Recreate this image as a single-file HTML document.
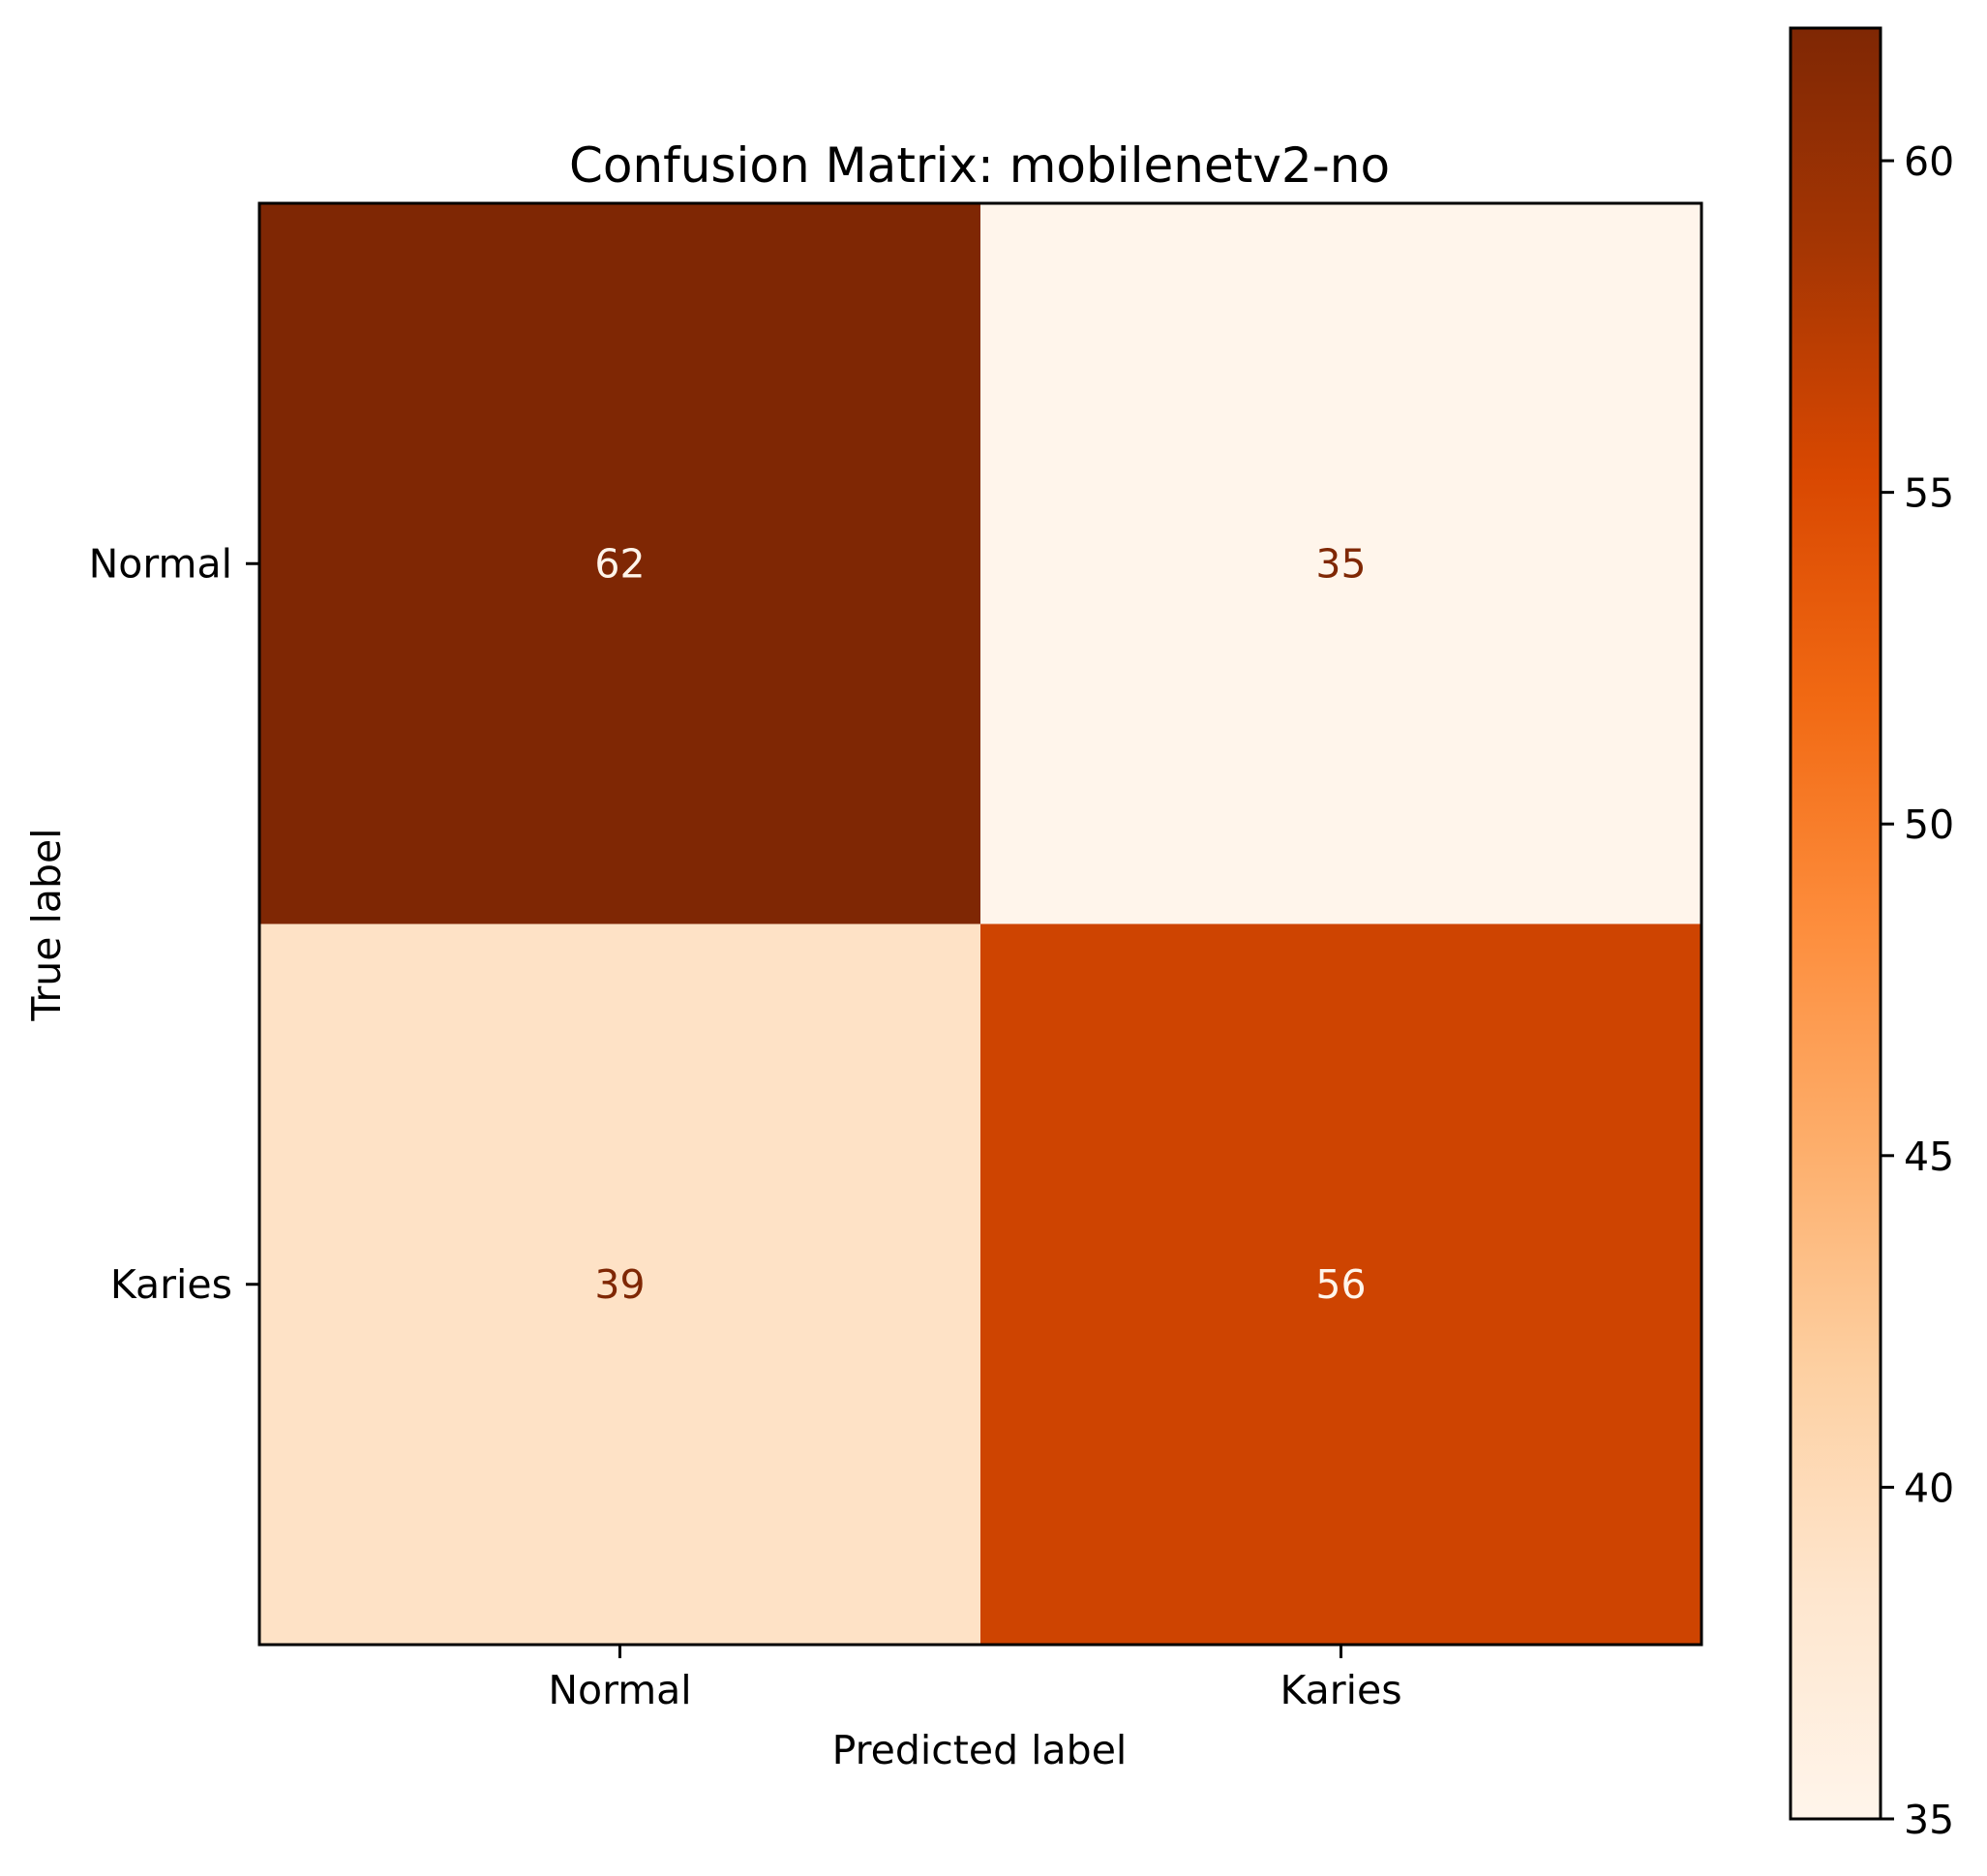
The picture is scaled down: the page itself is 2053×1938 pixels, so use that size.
<!DOCTYPE html>
<html><head><meta charset="utf-8"><style>
html,body{margin:0;padding:0;background:#fff;}
svg text{font-family:"DejaVu Sans","Liberation Sans",sans-serif;fill:#000;}
</style></head><body>
<svg id="chart" width="2053" height="1933" viewBox="0 0 2053 1933" xmlns="http://www.w3.org/2000/svg">
<defs>
<linearGradient id="cbgrad" x1="0" y1="1" x2="0" y2="0">
<stop offset="0" stop-color="#fff5eb"/><stop offset="0.125" stop-color="#fee6ce"/><stop offset="0.25" stop-color="#fdd0a2"/><stop offset="0.375" stop-color="#fdae6b"/><stop offset="0.5" stop-color="#fd8d3c"/><stop offset="0.625" stop-color="#f16913"/><stop offset="0.75" stop-color="#d94801"/><stop offset="0.875" stop-color="#a63603"/><stop offset="1" stop-color="#7f2704"/>
</linearGradient>
</defs>
<text x="1012" y="188" font-size="50" text-anchor="middle">Confusion Matrix: mobilenetv2-no</text>
<g id="cells"></g>
<rect x="268" y="210" width="1490" height="1489" fill="none" stroke="#000" stroke-width="3"/>
<g id="axes"></g>
<text x="1012" y="1822" font-size="41" text-anchor="middle">Predicted label</text>
<text transform="translate(62,955) rotate(-90)" font-size="41" text-anchor="middle">True label</text>
<rect x="1850" y="29" width="93" height="1850" fill="url(#cbgrad)" stroke="#000" stroke-width="3"/>
<g id="cbticks"></g>
</svg>
<script>
const rowLabels = ["Normal","Karies"];
const colLabels = ["Normal","Karies"];
const values = [[62,35],[39,56]];
const cbTicks = [35,40,45,50,55,60];
const stops = ["#fff5eb","#fee6ce","#fdd0a2","#fdae6b","#fd8d3c","#f16913","#d94801","#a63603","#7f2704"];
const NS="http://www.w3.org/2000/svg";
const flat=values.flat();
const vmin=Math.min(...flat), vmax=Math.max(...flat);
const AX={x:268,y:210,w:1490,h:1489};
const CB={x:1850,y:29,w:93,h:1850};
function hex(c){return [1,3,5].map(i=>parseInt(c.substr(i,2),16));}
function cmap(v){let t=(v-vmin)/(vmax-vmin);t=Math.max(0,Math.min(1,t));const p=t*(stops.length-1);const i=Math.min(Math.floor(p),stops.length-2);const f=p-i;const a=hex(stops[i]),b=hex(stops[i+1]);return "rgb("+a.map((x,k)=>Math.round(x+(b[k]-x)*f)).join(",")+")";}
const cw=AX.w/colLabels.length, ch=AX.h/rowLabels.length;
const xC=j=>AX.x+cw*(j+0.5), yC=i=>AX.y+ch*(i+0.5);
const cbY=v=>CB.y+CB.h-(v-vmin)/(vmax-vmin)*CB.h;
function el(tag,attrs,parent){const e=document.createElementNS(NS,tag);for(const k in attrs)e.setAttribute(k,attrs[k]);parent.appendChild(e);return e;}
const cells=document.getElementById('cells'), axes=document.getElementById('axes'), cbt=document.getElementById('cbticks');
values.forEach((row,i)=>row.forEach((v,j)=>{
  const r=el('rect',{x:AX.x+cw*j,y:AX.y+ch*i,width:cw+0.5,height:ch+0.5,fill:cmap(v)},cells);
  
  
  const t=el('text',{x:xC(j),y:yC(i)+14,'font-size':41,'text-anchor':'middle'},cells);
  t.style.fill=(v>(vmin+vmax)/2)?'#fff5eb':'#7f2704';
  t.textContent=v;
  
  
}));
colLabels.forEach((l,j)=>{
  el('line',{x1:xC(j),x2:xC(j),y1:AX.y+AX.h,y2:AX.y+AX.h+14,stroke:'#000','stroke-width':3},axes);
  const t=el('text',{x:xC(j),y:AX.y+AX.h+61,'font-size':41,'text-anchor':'middle'},axes);
  t.textContent=l;
  
  
});
rowLabels.forEach((l,i)=>{
  el('line',{x1:AX.x-14,x2:AX.x,y1:yC(i),y2:yC(i),stroke:'#000','stroke-width':3},axes);
  const t=el('text',{x:AX.x-28,y:yC(i)+14,'font-size':41,'text-anchor':'end'},axes);
  t.textContent=l;
  
  
});
cbTicks.forEach(v=>{
  el('line',{x1:CB.x+CB.w,x2:CB.x+CB.w+14,y1:cbY(v),y2:cbY(v),stroke:'#000','stroke-width':3},cbt);
  const t=el('text',{x:CB.x+CB.w+24,y:cbY(v)+15,'font-size':41},cbt);
  t.textContent=v;
  
  
});
</script>
</body></html>
